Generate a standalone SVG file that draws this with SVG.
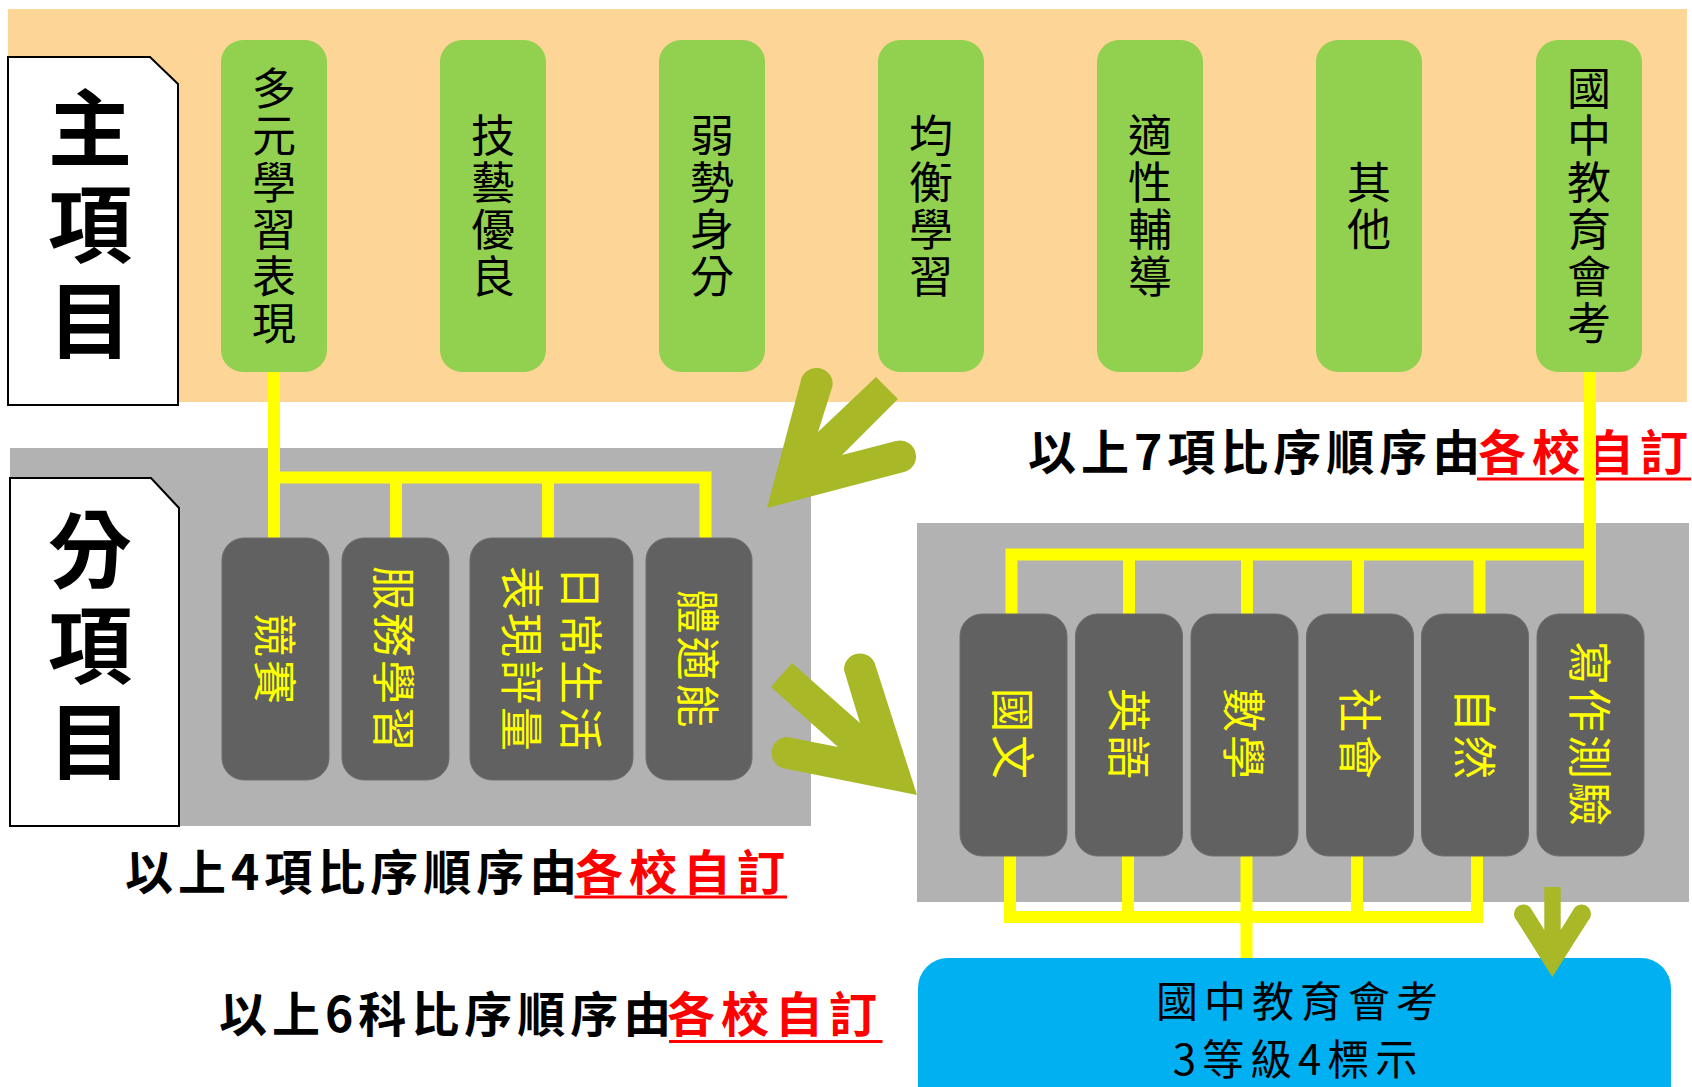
<svg xmlns="http://www.w3.org/2000/svg" width="1692" height="1087" viewBox="0 0 1692 1087">
<defs>
<style>
text{font-family:"Noto Sans CJK TC","Noto Sans CJK JP",sans-serif}
.g{fill:#92D050}
.gt{font-size:44px;fill:#000;text-anchor:middle;writing-mode:vertical-rl;letter-spacing:3px}
.d{fill:#616161;stroke:#6e6e6e;stroke-width:1}
.dt{font-size:44px;fill:#FFFF00;text-anchor:middle;dominant-baseline:central;letter-spacing:3px}
.lab{fill:#fff;stroke:#000;stroke-width:2}
.labt{font-size:84px;font-weight:700;fill:#000;text-anchor:middle;writing-mode:vertical-rl;letter-spacing:12px}
.cap{font-size:48px;font-weight:700;fill:#000;letter-spacing:5px}
.red{fill:#FF0000;letter-spacing:6px}
.ul{fill:#FF0000}
.y{stroke:#FFFF00;stroke-width:12;fill:none;stroke-linejoin:miter;stroke-linecap:butt}
.arr{fill:#A8B826}
.bt{font-size:42px;fill:#000;text-anchor:middle;letter-spacing:6px}
</style>
</defs>
<rect width="1692" height="1087" fill="#fff"/>
<rect x="8" y="9" width="1679" height="393" fill="#FDD597"/>
<rect x="10" y="448" width="801" height="378" fill="#B2B2B2"/>
<rect x="917" y="523" width="772" height="379" fill="#B2B2B2"/>

<g id="label-main">
<path class="lab" d="M8 57 H150 L178 84 V405 H8 Z"/>
<text class="labt" x="90" y="230">主項目</text>
</g>
<g id="label-sub">
<path class="lab" d="M10 478 H151 L179 508 V826 H10 Z"/>
<text class="labt" x="90" y="651">分項目</text>
</g>

<g id="captions">
<text class="cap" x="1028" y="469.5">以上7項比序順序由</text>
<text class="cap red" x="1478" y="469.5">各校自訂</text>
<rect class="ul" x="1477" y="477.5" width="214" height="3"/>
<text class="cap" x="125" y="889.5">以上4項比序順序由</text>
<text class="cap red" x="575" y="889.5">各校自訂</text>
<rect class="ul" x="574.5" y="895.5" width="212.5" height="3"/>
<text class="cap" x="219" y="1031.5">以上6科比序順序由</text>
<text class="cap red" x="667" y="1031.5">各校自訂</text>
<rect class="ul" x="669" y="1040" width="213.5" height="3"/>
</g>

<g id="connectors">
<g class="y">
<path d="M274 371 V538"/>
<path d="M274 477.5 H705.5 V538"/>
<path d="M396 477.5 V538 M548 477.5 V538"/>
<path d="M1590 371 V614"/>
<path d="M1590 554.5 H1011.5 V614"/>
<path d="M1129 554.5 V614 M1247 554.5 V614 M1358 554.5 V614 M1479.5 554.5 V614"/>
<path d="M1010 856 V917 H1477 V856"/>
<path d="M1128 856 V917 M1246.5 856 V958 M1357 856 V917"/>
</g>
<path class="arr" d="M767 508 L800.5 382 A16 16 0 0 1 832.5 386 L818 432 L876 377 L898 399 L842 455 L896 441 A16 16 0 0 1 904 472 Z"/>
<path class="arr" d="M917 795 L875 664 A16 16 0 0 0 844 670 L860 723 L792 663 L771 687 L838 747 L787 737 A16 16 0 0 0 782 768 Z"/>
</g>

<g id="m1"><rect class="g" x="221" y="40" width="106" height="332" rx="22"/>
<text class="gt" x="274" y="207.5">多元學習表現</text></g>
<g id="m2"><rect class="g" x="440" y="40" width="106" height="332" rx="22"/>
<text class="gt" x="493" y="207.5">技藝優良</text></g>
<g id="m3"><rect class="g" x="659" y="40" width="106" height="332" rx="22"/>
<text class="gt" x="712" y="207.5">弱勢身分</text></g>
<g id="m4"><rect class="g" x="878" y="40" width="106" height="332" rx="22"/>
<text class="gt" x="931" y="207.5">均衡學習</text></g>
<g id="m5"><rect class="g" x="1097" y="40" width="106" height="332" rx="22"/>
<text class="gt" x="1150" y="207.5">適性輔導</text></g>
<g id="m6"><rect class="g" x="1316" y="40" width="106" height="332" rx="22"/>
<text class="gt" x="1369" y="207.5">其他</text></g>
<g id="m7"><rect class="g" x="1536" y="40" width="106" height="332" rx="22"/>
<text class="gt" x="1589" y="207.5">國中教育會考</text></g>

<g id="s1"><rect class="d" x="222" y="538" width="107" height="242" rx="22"/>
<text class="dt" transform="translate(277 660) rotate(90)" x="0" y="0">競賽</text></g>
<g id="s2"><rect class="d" x="342" y="538" width="107" height="242" rx="22"/>
<text class="dt" transform="translate(396 660) rotate(90)" x="0" y="0">服務學習</text></g>
<g id="s3"><rect class="d" x="470" y="538" width="163" height="242" rx="22"/>
<text class="dt" transform="translate(553 660) rotate(90)"><tspan x="0" y="-29.5">日常生活</tspan><tspan x="0" y="29.5">表現評量</tspan></text></g>
<g id="s4"><rect class="d" x="646" y="538" width="106" height="242" rx="22"/>
<text class="dt" transform="translate(700 660) rotate(90)" x="0" y="0">體適能</text></g>

<g id="k1"><rect class="d" x="960" y="614" width="107" height="242" rx="22"/>
<text class="dt" transform="translate(1015 735) rotate(90)" x="0" y="0">國文</text></g>
<g id="k2"><rect class="d" x="1075.5" y="614" width="107" height="242" rx="22"/>
<text class="dt" transform="translate(1130.5 735) rotate(90)" x="0" y="0">英語</text></g>
<g id="k3"><rect class="d" x="1191" y="614" width="107" height="242" rx="22"/>
<text class="dt" transform="translate(1246 735) rotate(90)" x="0" y="0">數學</text></g>
<g id="k4"><rect class="d" x="1306.5" y="614" width="107" height="242" rx="22"/>
<text class="dt" transform="translate(1361.5 735) rotate(90)" x="0" y="0">社會</text></g>
<g id="k5"><rect class="d" x="1421.5" y="614" width="107" height="242" rx="22"/>
<text class="dt" transform="translate(1476.5 735) rotate(90)" x="0" y="0">自然</text></g>
<g id="k6"><rect class="d" x="1537" y="614" width="107" height="242" rx="22"/>
<text class="dt" transform="translate(1592 735) rotate(90)" x="0" y="0">寫作測驗</text></g>

<g id="exam"><rect x="918" y="958" width="753" height="170" rx="30" fill="#00B0F0"/>
<text class="bt" x="1300" y="1017">國中教育會考</text>
<text class="bt" x="1298" y="1075">3等級4標示</text></g>

<path class="arr" d="M1552.3 977 L1517 921 A9.5 9.5 0 0 1 1530 907 L1544.3 930 L1544.3 887 L1560.7 887 L1560.7 930 L1575 907 A9.5 9.5 0 0 1 1588 921 Z"/>
</svg>
